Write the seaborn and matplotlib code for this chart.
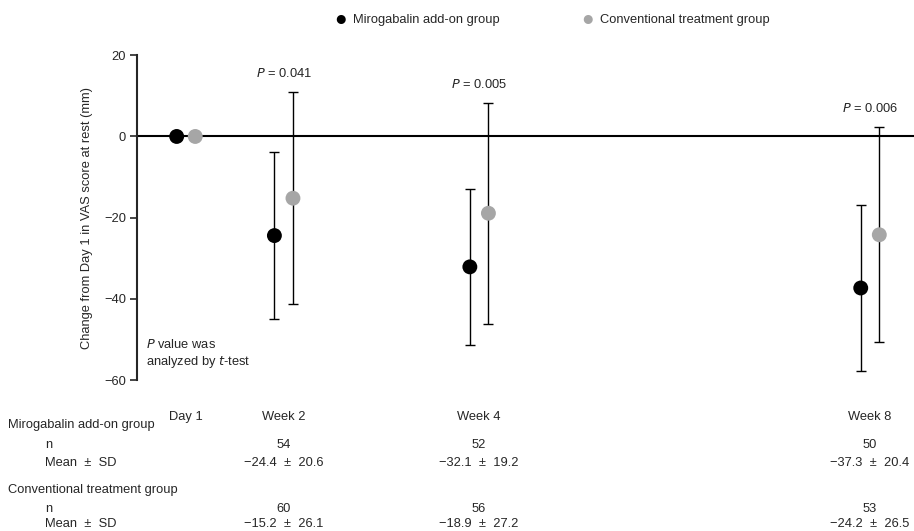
import pandas as pd
import matplotlib.pyplot as plt
import seaborn as sns

# Time points (x position in weeks, Day 1 shown at 1)
timepoints = ["Day 1", "Week 2", "Week 4", "Week 8"]
weeks = [1, 2, 4, 8]

# Mirogabalin add-on group
miro_mean = [0, -24.4, -32.1, -37.3]
miro_sd = [0, 20.6, 19.2, 20.4]
miro_n = [None, 54, 52, 50]

# Conventional treatment group
conv_mean = [0, -15.2, -18.9, -24.2]
conv_sd = [0, 26.1, 27.2, 26.5]
conv_n = [None, 60, 56, 53]

p_values = [None, "0.041", "0.005", "0.006"]

sns.set_style("ticks")
plt.rcParams['font.family'] = ['Liberation Sans', 'DejaVu Sans']
plt.rcParams['font.size'] = 9.3

fig = plt.figure(figsize=(9.14, 5.31), dpi=100)
ax = fig.add_axes([0.150, 0.284, 0.85, 0.612])

off = 0.095
df = pd.DataFrame({
    "x": [w - off for w in weeks] + [w + off for w in weeks],
    "mean": miro_mean + conv_mean,
    "sd": miro_sd + conv_sd,
    "group": ["Mirogabalin add-on group"] * 4 + ["Conventional treatment group"] * 4,
})
colors = {"Mirogabalin add-on group": "black", "Conventional treatment group": "#a6a6a6"}

# zero line
ax.axhline(0, color="black", lw=1.5, zorder=1)

# error bars (skip Day 1, no SD)
sub = df[df["sd"] > 0]
ax.errorbar(sub["x"], sub["mean"], yerr=sub["sd"], fmt="none", ecolor="black",
            elinewidth=1.0, capsize=3.6, capthick=1.0, zorder=2)

sns.scatterplot(data=df, x="x", y="mean", hue="group", palette=colors, s=115,
                edgecolor="none", ax=ax, zorder=3, legend=False)

# P value labels above conventional group bars
for w, m, s, p in zip(weeks, conv_mean, conv_sd, p_values):
    if p is None:
        continue
    ax.text(w, m + s + 3.0, f"$\\it{{P}}$ = {p}", ha="center", va="bottom")

ax.text(1 - 0.41, -53.5, "$\\it{P}$ value was\nanalyzed by $\\it{t}$-test",
        ha="left", va="center", linespacing=1.3)

ax.set_xlim(0.5, 8.45)
ax.set_ylim(-60, 20)
ax.set_yticks([-60, -40, -20, 0, 20])
ax.set_yticklabels(["\u221260", "\u221240", "\u221220", "0", "20"])
ax.set_ylabel("Change from Day 1 in VAS score at rest (mm)", labelpad=8)
ax.set_xlabel("")
ax.set_xticks(weeks)
ax.set_xticklabels(timepoints)
ax.tick_params(axis="x", length=0, pad=22, labelsize=9.3)
ax.tick_params(axis="y", length=5, width=1.2, pad=3, labelsize=9.3)
sns.despine(ax=ax, bottom=True)
ax.spines["left"].set_linewidth(1.5)

# legend at top
fig.text(341 / 914, 1 - 20 / 531, "\u25cf", ha="center", va="center", fontsize=15, color="black")
fig.text(353 / 914, 1 - 20 / 531, "Mirogabalin add-on group", ha="left", va="center")
fig.text(588 / 914, 1 - 20 / 531, "\u25cf", ha="center", va="center", fontsize=15, color="#a6a6a6")
fig.text(600 / 914, 1 - 20 / 531, "Conventional treatment group", ha="left", va="center")

# table below the chart
def fmt(v):
    return f"{v:.1f}".replace("-", "\u2212")

rows = [
    ("Mirogabalin add-on group", miro_n, miro_mean, miro_sd, 425, 445, 463),
    ("Conventional treatment group", conv_n, conv_mean, conv_sd, 490, 509, 524),
]
for title, ns, means, sds, y_title, y_n, y_mean in rows:
    fig.text(8 / 914, 1 - y_title / 531, title, ha="left", va="center")
    fig.text(45 / 914, 1 - y_n / 531, "n", ha="left", va="center")
    fig.text(45 / 914, 1 - y_mean / 531, "Mean  \u00b1  SD", ha="left", va="center")
    for w, n, m, s in zip(weeks, ns, means, sds):
        if n is None:
            continue
        xf = fig.transFigure.inverted().transform(ax.transData.transform((w, 0)))[0]
        fig.text(xf, 1 - y_n / 531, str(n), ha="center", va="center")
        fig.text(xf, 1 - y_mean / 531, f"{fmt(m)}  \u00b1  {fmt(s)}", ha="center", va="center")

fig.savefig("out.png", dpi=100)
